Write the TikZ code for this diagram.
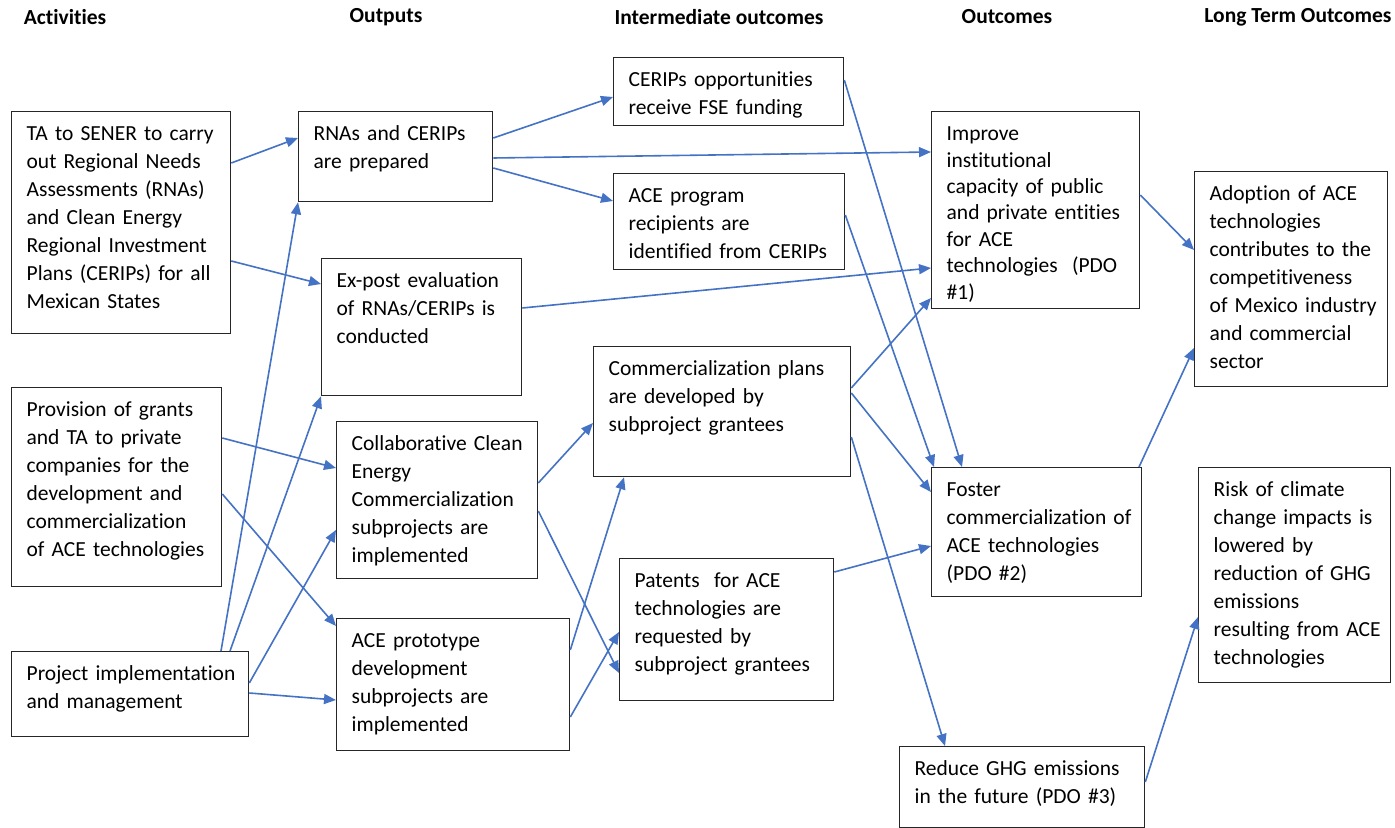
\documentclass[tikz,border=0pt]{standalone}
\usepackage{fontspec}
\setmainfont{Carlito}[Ligatures={NoCommon}]
\usetikzlibrary{arrows.meta}
\definecolor{flowblue}{HTML}{4472C4}

\begin{document}
\begin{tikzpicture}[x=0.5pt,y=-0.5pt,
		blk/.style={draw=black!85, line width=0.65pt, anchor=north west, align=left,
			inner xsep=7.5pt, inner ysep=5pt, text height=9.5pt,
			font=\fontsize{10.75}{14}\selectfont,
			execute at begin node={\rightskip=0pt plus 1fil minus 25pt}},
		head/.style={font=\fontsize{10.75}{14}\selectfont\bfseries},
		flow/.style={draw=flowblue, line width=0.8pt, -{Triangle[length=6pt,width=5pt]}}]
			\useasboundingbox (0,0) rectangle (1395,828);
			\node [head] (hact) at (65,17) {Activities};
			\node [head] (hout) at (386,17) {Outputs};
			\node [head] (hint) at (719,17) {Intermediate outcomes};
			\node [head] (hoc) at (1007,17) {Outcomes};
			\node [head] (hlong) at (1298,17) {Long Term Outcomes};

			\node [blk, text width=94.5pt, text depth=91.5pt] (ta) at (11,111) {TA to SENER to carry\\ out Regional Needs\\ Assessments (RNAs)\\ and Clean Energy\\ Regional Investment\\ Plans (CERIPs) for all\\ Mexican States};
			\node [blk, text width=90pt, text depth=80pt] (pv) at (11,387) {Provision of grants\\ and TA to private\\ companies for the\\ development and\\ commercialization\\ of ACE technologies};
			\node [blk, text width=103.5pt, text depth=23pt] (pim) at (11,651) {Project implementation\\ and management};

			\node [blk, text width=82pt, text depth=25.5pt] (rna) at (298,111) {RNAs and CERIPs\\ are prepared};
			\node [blk, text width=85pt, text depth=49pt] (expost) at (321,258) {Ex-post evaluation\\ of RNAs/CERIPs is\\ conducted};
			\node [blk, text width=85.5pt, text depth=59pt] (coll) at (336,421) {Collaborative Clean\\ Energy\\ Commercialization\\ subprojects are\\ implemented};
			\node [blk, text width=101.5pt, text depth=46.5pt] (proto) at (336,618) {ACE prototype\\ development\\ subprojects are\\ implemented};

			\node [blk, text width=100pt, text depth=14.5pt] (cerf) at (613,57) {CERIPs opportunities\\ receive FSE funding};
			\node [blk, text width=100.5pt, text depth=28.5pt] (acer) at (613,173) {ACE program\\ recipients are\\ identified from CERIPs};
			\node [blk, text width=113.5pt, text depth=45.5pt] (cplan) at (593,346) {Commercialization plans\\ are developed by\\ subproject grantees};
			\node [blk, text width=92pt, text depth=51.5pt] (pat) at (619,558) {Patents~ for ACE\\ technologies are\\ requested by\\ subproject grantees};

			\node [blk, text width=89pt, text depth=79pt, font=\fontsize{10.75}{13.2}\selectfont] (imp) at (931,111) {Improve\\ institutional\\ capacity of public\\ and private entities\\ for ACE\\ technologies~ (PDO\\ \#1)};
			\node [blk, text width=90pt, text depth=45pt] (fos) at (931,467) {Foster\\ commercialization of\\ ACE technologies\\ (PDO \#2)};
			\node [blk, text width=107.5pt, text depth=21pt] (red) at (899,746) {Reduce GHG emissions\\ in the future (PDO \#3)};

			\node [blk, text width=81.5pt, text depth=88pt] (adop) at (1194,171) {Adoption of ACE\\ technologies\\ contributes to the\\ competitiveness\\ of Mexico industry\\ and commercial\\ sector};
			\node [blk, text width=81pt, text depth=88pt] (risk) at (1198,467) {Risk of climate\\ change impacts is\\ lowered by\\ reduction of GHG\\ emissions\\ resulting from ACE\\ technologies};

			\draw [flow] (ta.east |- 0,163) -- (rna.west |- 0,138);
			\draw [flow] (ta.east |- 0,261) -- (expost.west |- 0,284);
			\draw [flow] (pv.east |- 0,438) -- (coll.west |- 0,468);
			\draw [flow] (pv.east |- 0,494) -- (proto.west |- 0,626);
			\draw [flow] (pim.north -| 221,0) -- (rna.south west);
			\draw [flow] (pim.north -| 230,0) -- (expost.south west);
			\draw [flow] (pim.east |- 0,683) -- (coll.west |- 0,530);
			\draw [flow] (pim.east |- 0,693) -- (proto.west |- 0,700);

			\draw [flow] (rna.east |- 0,138) -- (cerf.west |- 0,97);
			\draw [flow] (rna.east |- 0,158) -- (imp.west |- 0,152);
			\draw [flow] (rna.east |- 0,168) -- (acer.west |- 0,201);
			\draw [flow] (expost.east |- 0,308) -- (imp.west |- 0,268);
			\draw [flow] (coll.east |- 0,483) -- (cplan.west |- 0,423);
			\draw [flow] (coll.east |- 0,511) -- (pat.west |- 0,673);
			\draw [flow] (proto.east |- 0,650) -- (cplan.south -| 624,0);
			\draw [flow] (proto.east |- 0,717) -- (pat.west |- 0,632);

			\draw [flow] (cerf.east |- 0,80) -- (fos.north -| 962,0);
			\draw [flow] (acer.east |- 0,215) -- (fos.north -| 934,0);
			\draw [flow] (cplan.east |- 0,388) -- (imp.west |- 0,298);
			\draw [flow] (cplan.east |- 0,393) -- (fos.west |- 0,492);
			\draw [flow] (cplan.east |- 0,437) -- (red.north -| 945,0);
			\draw [flow] (pat.east |- 0,572) -- (fos.west |- 0,546);

			\draw [flow] (imp.east |- 0,195) -- (adop.west |- 0,250);
			\draw [flow] (fos.north -| 1139,0) -- (adop.west |- 0,348);
			\draw [flow] (red.east |- 0,782) -- (risk.west |- 0,617);
		\end{tikzpicture}
\end{document}
